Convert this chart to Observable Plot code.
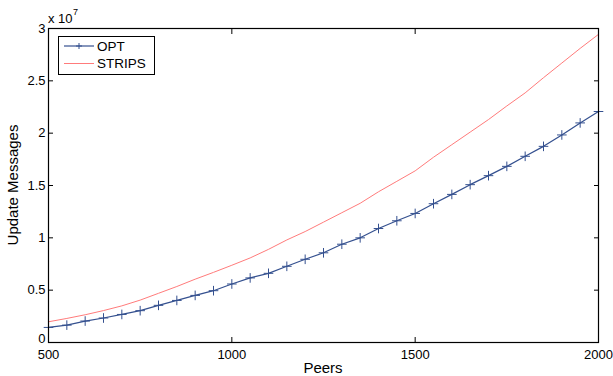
<!DOCTYPE html>
<html>
<head>
<meta charset="utf-8">
<script src="https://cdn.jsdelivr.net/npm/d3@7"></script>
<script src="https://cdn.jsdelivr.net/npm/@observablehq/plot@0.6"></script>
<style>
  body { margin: 0; background: #fff; }
</style>
</head>
<body>
<div id="chart"></div>
<script>
// Number of peers in the overlay
const peers = [500, 550, 600, 650, 700, 750, 800, 850, 900, 950, 1000, 1050, 1100, 1150, 1200,
  1250, 1300, 1350, 1400, 1450, 1500, 1550, 1600, 1650, 1700, 1750, 1800, 1850, 1900, 1950, 2000];

// Update messages, in millions
const optMessages = [1.44, 1.66, 2.05, 2.34, 2.68, 3.04, 3.55, 4.02, 4.5, 4.95, 5.59, 6.17, 6.61, 7.28, 7.95,
  8.57, 9.39, 10.0, 10.89, 11.63, 12.33, 13.26, 14.15, 15.08, 15.94, 16.83, 17.79, 18.74, 19.83, 20.98, 22.07];
const stripsMessages = [1.98, 2.3, 2.65, 3.05, 3.5, 4.05, 4.7, 5.35, 6.05, 6.7, 7.38, 8.08, 8.9, 9.8, 10.6,
  11.5, 12.4, 13.3, 14.4, 15.4, 16.4, 17.7, 18.9, 20.1, 21.3, 22.6, 23.85, 25.3, 26.7, 28.1, 29.44];

const seriesNames = ["OPT", "STRIPS"];
const seriesColors = ["#34508f", "#ff7b7b"];

const xTicks = [500, 1000, 1500, 2000];
const yTicks = [0, 5e6, 1e7, 1.5e7, 2e7, 2.5e7, 3e7];

const optRows = peers.map((p, i) => ({peers: p, messages: optMessages[i] * 1e6}));
const stripsRows = peers.map((p, i) => ({peers: p, messages: stripsMessages[i] * 1e6}));

const FONT = "'Liberation Sans', Arial, Helvetica, sans-serif";
const W = 613, H = 376;
const mL = 48, mR = 15, mT = 28, mB = 34;

const chart = Plot.plot({
  width: W,
  height: H,
  marginLeft: mL,
  marginRight: mR,
  marginTop: mT,
  marginBottom: mB,
  style: {fontFamily: FONT, fontSize: "13px", color: "#000", background: "#fff", overflow: "visible"},
  x: {domain: [500, 2000]},
  y: {domain: [0, 3e7]},
  marks: [
    Plot.line(stripsRows, {x: "peers", y: "messages", stroke: seriesColors[1], strokeWidth: 1}),
    Plot.line(optRows, {x: "peers", y: "messages", stroke: seriesColors[0], strokeWidth: 1.2}),
    Plot.dot(optRows, {x: "peers", y: "messages", symbol: "plus", r: 3.2, stroke: seriesColors[0], strokeWidth: 1}),
    Plot.frame({stroke: "#000", strokeWidth: 1.2}),
    Plot.axisX({anchor: "bottom", ticks: xTicks, tickSize: -5, tickPadding: 12, tickFormat: d => String(d), label: null, stroke: "#000", fill: "#000"}),
    Plot.axisX({anchor: "top", ticks: xTicks, tickSize: -5, tickFormat: () => "", label: null, stroke: "#000"}),
    // tick marks on the left edge, with the labels drawn by the two text axes below
    Plot.axisY({anchor: "left", ticks: yTicks, tickSize: -5, tickFormat: () => "", label: null, stroke: "#000"}),
    Plot.axisY({anchor: "left", ticks: yTicks.filter(d => d > 0), tickSize: 0, tickPadding: 3, tickFormat: d => String(d / 1e7), label: null, fill: "#000"}),
    Plot.axisY({anchor: "left", ticks: yTicks.filter(d => d === 0), tickSize: 0, tickPadding: 3, dy: -4, tickFormat: d => String(d / 1e7), label: null, fill: "#000"}),
    Plot.axisY({anchor: "right", ticks: yTicks, tickSize: -5, tickFormat: () => "", label: null, stroke: "#000"})
  ]
});

document.getElementById("chart").appendChild(chart);

const svg = d3.select(chart);
const addText = (x, y, size, str, anchor = "start") =>
  svg.append("text").attr("x", x).attr("y", y)
    .attr("font-family", FONT).attr("font-size", size)
    .attr("text-anchor", anchor).attr("fill", "#000").text(str);

// Exponent note above the y axis
addText(48, 23, 13, "x 10");
addText(73, 15, 9, "7");

// Axis titles
addText((mL + W - mR) / 2, 373, 15, "Peers", "middle");
addText(0, 0, 15, "Update Messages", "middle")
  .attr("x", null).attr("y", null)
  .attr("transform", `translate(18,${(mT + H - mB) / 2}) rotate(-90)`);

// Legend box
const lg = svg.append("g");
lg.append("rect").attr("x", 58.5).attr("y", 36.5).attr("width", 96).attr("height", 38)
  .attr("fill", "#fff").attr("stroke", "#000").attr("stroke-width", 1);
seriesNames.forEach((name, i) => {
  const yy = 46 + i * 17.5;
  lg.append("line").attr("x1", 64).attr("x2", 94).attr("y1", yy).attr("y2", yy)
    .attr("stroke", seriesColors[i]).attr("stroke-width", i === 0 ? 1.2 : 1);
  if (i === 0) {
    lg.append("path").attr("d", `M76,${yy}h6M79,${yy - 3}v6`).attr("stroke", seriesColors[i]).attr("fill", "none");
  }
  lg.append("text").attr("x", 97).attr("y", yy + 4.5)
    .attr("font-family", FONT).attr("font-size", 13.5).attr("text-anchor", "start")
    .attr("fill", "#000").text(name);
});
</script>
</body>
</html>
